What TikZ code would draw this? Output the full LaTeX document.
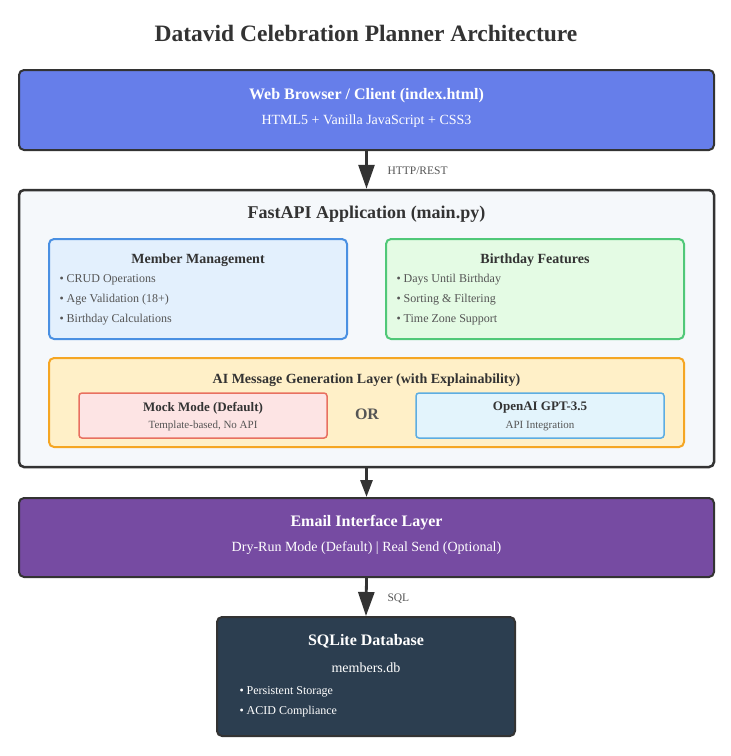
\documentclass[tikz,border=0pt]{standalone}
\usepackage{fontspec}
\setmainfont{Liberation Serif}
\usetikzlibrary{arrows.meta}
\definecolor{webfill}{HTML}{667EEA}
\definecolor{dark}{HTML}{333333}
\definecolor{apifill}{HTML}{F5F8FB}
\definecolor{mmfill}{HTML}{E3F0FD}
\definecolor{mmdraw}{HTML}{4A90E2}
\definecolor{bffill}{HTML}{E4FBE4}
\definecolor{bfdraw}{HTML}{50C878}
\definecolor{aifill}{HTML}{FFF0C8}
\definecolor{aidraw}{HTML}{F5A623}
\definecolor{mockfill}{HTML}{FDE4E4}
\definecolor{mockdraw}{HTML}{E87060}
\definecolor{oafill}{HTML}{E3F4FC}
\definecolor{oadraw}{HTML}{5DADE2}
\definecolor{emailfill}{HTML}{764BA2}
\definecolor{dbfill}{HTML}{2C3E50}
\definecolor{txt}{HTML}{333333}
\definecolor{subtxt}{HTML}{555555}
\tikzset{
  box/.style={rectangle, rounded corners=5pt, line width=2pt, inner sep=0pt},
  arr/.style={line width=2.8pt, draw=dark, -{Triangle[width=16pt,length=24pt]}},
  arrsmall/.style={line width=2.8pt, draw=dark, -{Triangle[width=12pt,length=17pt]}},
  lbl/.style={font=\fontsize{11.5}{13}\selectfont, text=subtxt, anchor=west},
  btitle/.style={font=\bfseries\fontsize{16}{18}\selectfont},
  bsub/.style={font=\fontsize{14}{16}\selectfont},
  stitle/.style={font=\bfseries\fontsize{14}{16}\selectfont, text=txt},
  bullet/.style={font=\fontsize{12}{14}\selectfont, text=subtxt, anchor=west},
}
\begin{document}
\begin{tikzpicture}[x=1pt,y=-1pt]
\useasboundingbox (0,0) rectangle (731,756);
\fill[white] (0,0) rectangle (731,756);
\node[font=\bfseries\fontsize{23.5}{28}\selectfont, text=txt] (title) at (366,33) {Datavid Celebration Planner Architecture};

% Web
\node[box, draw=dark, fill=webfill, minimum width=695pt, minimum height=80pt] (web) at (366.5,110) {};
\node[btitle, text=white] (webt) at (366.5,96) {Web Browser / Client (index.html)};
\node[bsub, text=white] (webs) at (366.5,121) {HTML5 + Vanilla JavaScript + CSS3};

% FastAPI
\node[box, draw=dark, fill=apifill, minimum width=695pt, minimum height=277pt, line width=2.5pt] (api) at (366.5,328.5) {};
\node[font=\bfseries\fontsize{18}{21}\selectfont, text=txt] (apit) at (366.5,214) {FastAPI Application (main.py)};

% Member Management
\node[box, draw=mmdraw, fill=mmfill, minimum width=298pt, minimum height=100pt] (mm) at (198,289) {};
\node[stitle] (mmt) at (198,260) {Member Management};
\node[bullet] (mm1) at (56,280) {• CRUD Operations};
\node[bullet] (mm2) at (56,300) {• Age Validation (18+)};
\node[bullet] (mm3) at (56,320) {• Birthday Calculations};

% Birthday Features
\node[box, draw=bfdraw, fill=bffill, minimum width=298pt, minimum height=100pt] (bf) at (535,289) {};
\node[stitle] (bft) at (535,260) {Birthday Features};
\node[bullet] (bf1) at (393,280) {• Days Until Birthday};
\node[bullet] (bf2) at (393,300) {• Sorting \& Filtering};
\node[bullet] (bf3) at (393,320) {• Time Zone Support};

% AI layer
\node[box, draw=aidraw, fill=aifill, minimum width=635pt, minimum height=89pt] (ai) at (366.5,402.5) {};
\node[stitle] (ait) at (366.5,380) {AI Message Generation Layer (with Explainability)};
\node[box, draw=mockdraw, fill=mockfill, minimum width=248pt, minimum height=45pt, line width=1.5pt, rounded corners=3pt] (mock) at (203,415.5) {};
\node[font=\bfseries\fontsize{13}{15}\selectfont, text=txt] (mockt) at (203,408) {Mock Mode (Default)};
\node[font=\fontsize{11}{13}\selectfont, text=subtxt] (mocks) at (203,426) {Template-based, No API};
\node[font=\bfseries\fontsize{16}{18}\selectfont, text=subtxt] (or) at (367,414) {OR};
\node[box, draw=oadraw, fill=oafill, minimum width=248pt, minimum height=45pt, line width=1.5pt, rounded corners=3pt] (oa) at (540,415.5) {};
\node[font=\bfseries\fontsize{13}{15}\selectfont, text=txt] (oat) at (540,408) {OpenAI GPT-3.5};
\node[font=\fontsize{11}{13}\selectfont, text=subtxt] (oas) at (540,426) {API Integration};

% Email
\node[box, draw=dark, fill=emailfill, minimum width=695pt, minimum height=79pt] (email) at (366.5,537.5) {};
\node[btitle, text=white] (emailt) at (366.5,523) {Email Interface Layer};
\node[bsub, text=white] (emails) at (366.5,548) {Dry-Run Mode (Default) | Real Send (Optional)};

% DB
\node[box, draw=dark, fill=dbfill, minimum width=298pt, minimum height=119pt] (db) at (366,676.5) {};
\node[btitle, text=white] (dbt) at (366,641) {SQLite Database};
\node[bsub, text=white] (dbs) at (366,668) {members.db};
\node[bullet, text=white] (db1) at (236,692) {• Persistent Storage};
\node[bullet, text=white] (db2) at (236,712) {• ACID Compliance};

% connectors
\draw[arr] (web.south) -- (api.north);
\node[lbl] (l1) at (384,171) {HTTP/REST};
\draw[arrsmall] (api.south) -- (email.north);
\draw[arr] (email.south) -- (db.north);
\node[lbl] (l2) at (384,599) {SQL};
\end{tikzpicture}
\end{document}
